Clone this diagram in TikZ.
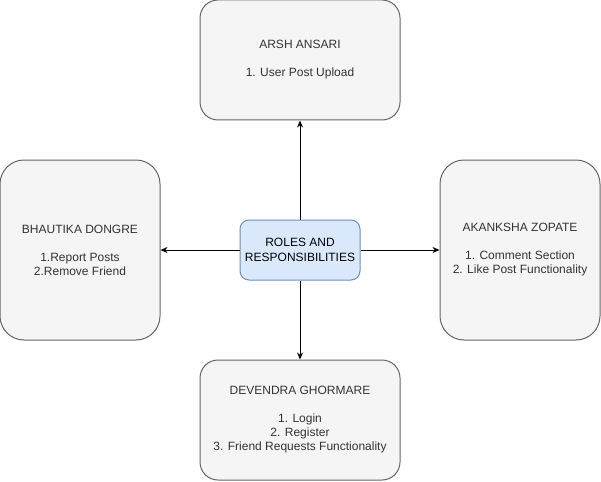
\documentclass[tikz,border=0pt]{standalone}
\usepackage{fontspec}
\setmainfont{Liberation Sans}
\usetikzlibrary{arrows.meta}

\definecolor{memberfill}{HTML}{F5F5F5}
\definecolor{memberline}{HTML}{666666}
\definecolor{membertext}{HTML}{333333}
\definecolor{rolesfill}{HTML}{DAE8FC}
\definecolor{rolesline}{HTML}{6C8EBF}

\tikzset{
	member/.style={draw=memberline, fill=memberfill, text=membertext,
		line width=1pt, align=center, inner sep=0pt,
		font=\fontsize{12}{14}\selectfont},
	wide member/.style={member, minimum width=200pt, minimum height=120pt, rounded corners=18pt},
	tall member/.style={member, minimum width=160pt, minimum height=180pt, rounded corners=24pt},
	roles/.style={draw=rolesline, fill=rolesfill, text=black, line width=1pt,
		align=center, inner sep=0pt, minimum width=120pt, minimum height=60pt,
		rounded corners=9pt, font=\fontsize{12}{15}\selectfont},
	link/.style={line width=1pt, -{Stealth[length=7pt, width=6pt]}}
}

\begin{document}
\begin{tikzpicture}[x=1pt, y=-1pt]
\useasboundingbox (0,0) rectangle (601,481);

\node[roles] (roles) at (300,250) {ROLES AND\\RESPONSIBILITIES};

\node[wide member] (arsh) at (300,60)
	{ARSH ANSARI\\[14pt]1. User Post Upload};
\node[tall member] (bhautika) at (80,250)
	{BHAUTIKA DONGRE\\[14pt]1.Report Posts\\2.Remove Friend};
\node[tall member] (akanksha) at (520,250)
	{AKANKSHA ZOPATE\\[14pt]1. Comment Section\\2. Like Post Functionality};
\node[wide member] (devendra) at (300,420)
	{DEVENDRA GHORMARE\\[14pt]1. Login\\2. Register\\3. Friend Requests Functionality};

\draw[link] (roles.north) -- (arsh.south);
\draw[link] (roles.west) -- (bhautika.east);
\draw[link] (roles.east) -- (akanksha.west);
\draw[link] (roles.south) -- (devendra.north);

\end{tikzpicture}
\end{document}
